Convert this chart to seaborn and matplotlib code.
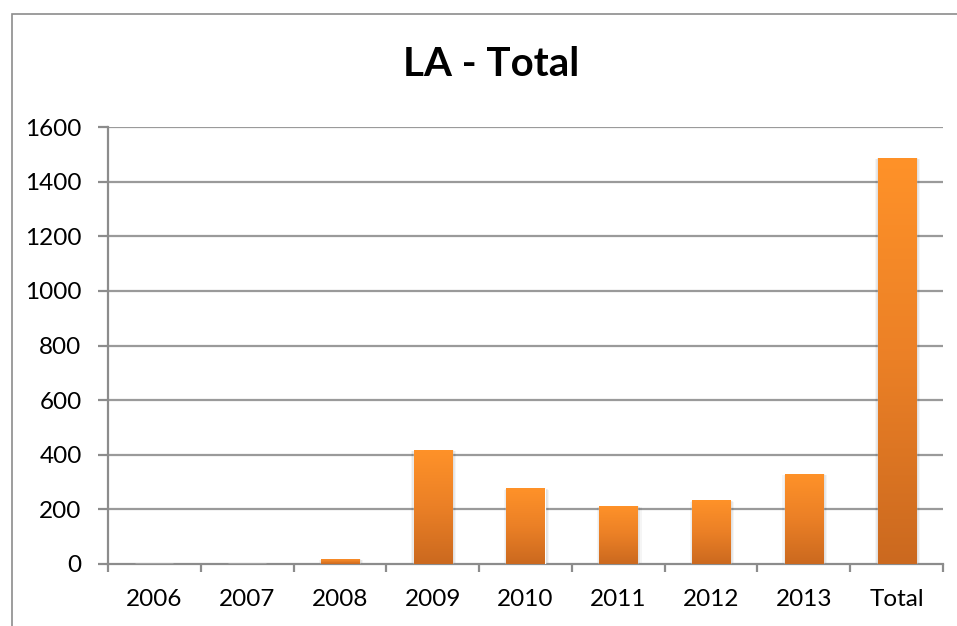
import numpy as np
import pandas as pd
import matplotlib.pyplot as plt
import matplotlib.patches as mpatches
from matplotlib.colors import LinearSegmentedColormap
import seaborn as sns

# Data
categories = ['2006', '2007', '2008', '2009', '2010', '2011', '2012', '2013', 'Total']
values = [0, 0, 20, 419, 277, 214, 233, 331, 1488]
y_ticks = [0, 200, 400, 600, 800, 1000, 1200, 1400, 1600]

df = pd.DataFrame({'year': categories, 'count': values})

sns.set_theme(style='white')
plt.rcParams['font.family'] = ['Lato', 'DejaVu Sans']
plt.rcParams['text.color'] = 'black'

fig = plt.figure(figsize=(9.57, 6.26), dpi=100)
ax = fig.add_axes([108 / 957, 1 - 564 / 626, (943 - 108) / 957, (564 - 127) / 626])

# --- bars ---
sns.barplot(data=df, x='year', y='count', color='#F88B28', width=0.41, ax=ax,
            saturation=1, zorder=3)

# gradient fill + soft shadow for each bar (Excel look)
grad = LinearSegmentedColormap.from_list('orange', ['#CB691F', '#EB8026', '#FF9229'])
grad_img = np.linspace(0, 1, 256).reshape(-1, 1)
for bar in ax.patches:
    x, y = bar.get_x(), bar.get_y()
    w, h = bar.get_width(), bar.get_height()
    if h <= 0:
        continue
    for i, a in enumerate([0.06, 0.05, 0.04]):
        d = 0.012 * (i + 1)
        sh = mpatches.Rectangle((x - d + 0.01, y - 6 * (i + 1)), w + 2 * d, h + 4 * (i + 1),
                                facecolor='black', alpha=a, edgecolor='none', zorder=2)
        ax.add_patch(sh)
    im = ax.imshow(grad_img, cmap=grad, aspect='auto', origin='lower',
                   extent=[x, x + w, y, y + h], zorder=4)
    im.set_clip_path(bar)

ax.set_xlim(-0.5, len(categories) - 0.5)
ax.set_ylim(0, 1600)
ax.set_yticks(y_ticks)
ax.set_yticklabels([str(t) for t in y_ticks])

# gridlines
for t in y_ticks[1:]:
    ax.axhline(t, color='#9A9A9A', lw=1.6, zorder=1)

# axes styling
for s in ['top', 'right']:
    ax.spines[s].set_visible(False)
ax.spines['left'].set_color('#8C8C8C')
ax.spines['bottom'].set_color('#8C8C8C')
ax.spines['left'].set_linewidth(1.6)
ax.spines['bottom'].set_linewidth(1.6)

# x ticks at category boundaries, labels centred
ax.set_xticks(np.arange(len(categories) + 1) - 0.5, minor=False)
ax.set_xticklabels([''] * (len(categories) + 1))
ax.set_xticks(np.arange(len(categories)), minor=True)
ax.set_xticklabels(categories, minor=True)
ax.tick_params(axis='x', which='major', direction='out', length=6, width=1.6,
               color='#8C8C8C', bottom=True)
ax.tick_params(axis='x', which='minor', length=0, pad=18, labelsize=17.5, labelcolor='black')
ax.tick_params(axis='y', direction='out', length=7, width=1.6, color='#8C8C8C',
               left=True, labelsize=17.5, labelcolor='black', pad=12)

ax.set_xlabel('')
ax.set_ylabel('')

fig.text(491 / 957, 1 - 64 / 626, 'LA - Total', ha='center', va='center',
         fontsize=29, fontweight='bold', color='black')

# outer chart frame (clipped at right / bottom like the screenshot)
frame = mpatches.Rectangle((12 / 957, -0.1), 1.1, 1 - 14 / 626 + 0.1,
                           transform=fig.transFigure, fill=False,
                           edgecolor='#8C8C8C', lw=1.2, clip_on=False)
fig.patches.append(frame)

fig.savefig('out.png', dpi=100)
